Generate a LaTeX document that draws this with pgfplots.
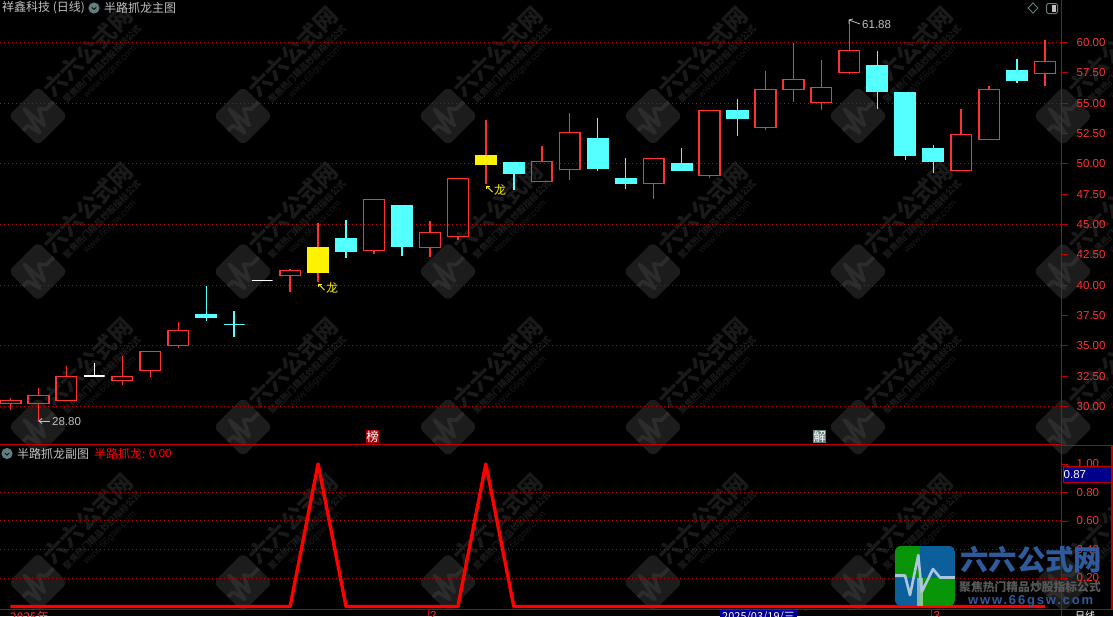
\documentclass[border=0pt]{standalone}
\usepackage{fontspec}
\usepackage{pgfplots}
\pgfplotsset{compat=1.18}
\setmainfont{Liberation Sans}
\newfontfamily\cjk{Noto Sans CJK SC}
\newfontfamily\wwwfont[LetterSpace=14]{Liberation Sans}

\definecolor{kred}{HTML}{FF3232}
\definecolor{kcyan}{HTML}{54FFFF}
\definecolor{gridred}{HTML}{C00000}
\definecolor{frame}{HTML}{C00000}
\definecolor{uigray}{HTML}{C0C0C0}
\definecolor{icon}{HTML}{5F7F7F}
\definecolor{wmtext}{HTML}{1A1A1A}
\definecolor{wmbox}{HTML}{1C1C1C}
\definecolor{wmline}{HTML}{2C2C2C}
\definecolor{logoblue}{HTML}{0B5F9B}
\definecolor{logogreen}{HTML}{089508}
\definecolor{logotext}{HTML}{2F5A9C}

% style, position, low, body bottom, body top, high
\newcommand{\candle}[6]{%
  \pgfmathsetmacro\xl{#2-0.37}%
  \pgfmathsetmacro\xr{#2+0.37}%
  \addplot[#1, fill=none] coordinates {(#2,#3) (#2,#4)};
  \addplot[#1, fill=none] coordinates {(#2,#5) (#2,#6)};
  \addplot[#1] coordinates {(\xl,#4) (\xr,#4) (\xr,#5) (\xl,#5)} -- cycle;
}
\tikzset{
  up/.style={draw=kred, line width=1.45pt, fill=none},
  down/.style={draw=kcyan, line width=1.45pt, fill=kcyan},
  flat/.style={draw=white, line width=1.45pt, fill=none},
  dragon/.style={draw=yellow, line width=1.45pt, fill=yellow},
}
\pgfplotsset{
  panel/.style={
    scale only axis, width=1061.5pt,
    xmin=-0.3755, xmax=37.588,
    axis x line=none, axis y line=right,
    axis line style={-, draw=frame, line width=1pt},
    tick align=outside, major tick length=6pt,
    ytick style={draw=frame, line width=0.8pt},
    yticklabel style={font=\fontsize{11.5}{12}\selectfont, text=kred, inner sep=0pt, anchor=west, xshift=9pt},
    /pgf/number format/assume math mode=true,
    /pgf/number format/fixed, /pgf/number format/fixed zerofill, /pgf/number format/precision=2,
    extra tick style={grid=major, major grid style={draw=gridred, line width=1pt, dash pattern=on 1pt off 3pt}},
    extra y tick labels={},
  },
}

\begin{document}
\begin{tikzpicture}
\path[use as bounding box] (0pt,0pt) rectangle (1113pt,-616pt);
\begin{scope}[x=1pt,y=-1pt]
  \fill[black] (0,0) rectangle (1113,616);
  % watermark
  \begin{scope}
  \clip (0,0) rectangle (1113,616);
  \foreach \wx in {38,243,448,653,858,1063}
    \foreach \wy in {116,271.5,427,582.5} {
      \begin{scope}[shift={(\wx,\wy)}]
        \begin{scope}[rotate=45, scale=0.7]
          \fill[wmbox, rounded corners=6] (-30,-30) rectangle (30,30);
          \draw[wmline, line width=3.6pt, line join=round]
            (-30,-0.5) -- (-20,-0.5) -- (-15,19) -- (-6.7,-21) -- (-3.3,16) -- (8,-7) -- (15,1.5) -- (30,1.5);
        \end{scope}
        \node[wmtext, rotate=45, font=\cjk\bfseries\fontsize{23}{23}\selectfont] at (50,-64) {六六公式网};
        \node[wmtext, rotate=45, font=\cjk\bfseries\fontsize{8.8}{9}\selectfont] at (64,-52) {聚焦热门精品炒股指标公式};
        \node[wmtext, rotate=45, font=\fontsize{9.5}{10}\selectfont] at (72,-44) {www.66gsw.com};
      \end{scope}
    }
  \end{scope}
\end{scope}

% main panel
\begin{axis}[panel, at={(0pt,-444.5pt)}, height=444.5pt,
  ymin=26.868, ymax=63.503,
  ytick={30,32.5,...,60},
  extra y ticks={30,35,40,45,50,55,60},
]
\candle{up}{0}{29.74}{30.26}{30.51}{30.70}
\candle{up}{1}{28.80}{30.23}{30.92}{31.50}
\candle{up}{2}{30.51}{30.51}{32.49}{33.34}
\candle{flat}{3}{32.51}{32.51}{32.51}{33.56}
\candle{up}{4}{31.77}{32.16}{32.49}{34.16}
\candle{up}{5}{32.46}{32.98}{34.55}{34.55}
\candle{up}{6}{34.85}{35.01}{36.28}{36.96}
\candle{down}{7}{37.07}{37.32}{37.54}{39.93}
\candle{down}{8}{35.75}{36.77}{36.77}{37.87}
\candle{flat}{9}{40.40}{40.40}{40.40}{40.40}
\candle{up}{10}{39.46}{40.81}{41.22}{41.33}
\candle{up}{11}{40.29}{41.08}{43.06}{45.10}
\candle{dragon}{11}{41.08}{41.08}{43.06}{43.06}
\candle{down}{12}{42.26}{42.82}{43.80}{45.37}
\candle{up}{13}{42.59}{42.84}{47.08}{47.08}
\candle{down}{14}{42.43}{43.17}{46.52}{46.52}
\candle{up}{15}{42.35}{43.09}{44.36}{45.29}
\candle{up}{16}{43.75}{43.99}{48.81}{48.81}
\candle{up}{17}{48.34}{49.99}{50.65}{53.61}
\candle{dragon}{17}{49.99}{49.99}{50.65}{50.65}
\candle{down}{18}{47.84}{49.24}{50.07}{50.07}
\candle{up}{19}{48.53}{48.53}{50.21}{51.47}
\candle{up}{20}{48.67}{49.52}{52.60}{54.19}
\candle{down}{21}{49.41}{49.66}{52.05}{53.78}
\candle{down}{22}{47.93}{48.42}{48.75}{50.48}
\candle{up}{23}{47.10}{48.36}{50.46}{50.46}
\candle{down}{24}{49.41}{49.49}{49.99}{51.30}
\candle{up}{25}{48.83}{49.02}{54.41}{54.41}
\candle{down}{26}{52.29}{53.78}{54.35}{55.34}
\candle{up}{27}{52.79}{53.01}{56.14}{57.65}
\candle{up}{28}{55.10}{56.14}{56.97}{59.98}
\candle{up}{29}{54.44}{55.07}{56.31}{58.56}
\candle{up}{30}{57.43}{57.51}{59.36}{61.88}
\candle{down}{31}{54.52}{55.94}{58.06}{59.30}
\candle{down}{32}{50.32}{50.73}{55.84}{55.84}
\candle{down}{33}{49.24}{50.23}{51.22}{51.55}
\candle{up}{34}{49.43}{49.43}{52.43}{54.52}
\candle{up}{35}{52.02}{52.02}{56.14}{56.41}
\candle{down}{36}{56.66}{56.91}{57.65}{58.64}
\candle{up}{37}{56.41}{57.46}{58.45}{60.21}
\end{axis}

% sub panel
\begin{axis}[panel, at={(0pt,-609pt)}, height=164pt,
  ymin=-0.0175, ymax=1.133,
  ytick={0.2,0.4,0.6,0.8,1.0},
  extra y ticks={0.2,0.4,0.6,0.8},
]
\addplot[red, line width=3.4pt, line join=round] coordinates {
  (0,0) (10,0) (11,1) (12,0) (16,0) (17,1) (18,0) (37,0)
};
\end{axis}

\begin{scope}[x=1pt,y=-1pt]
  % frame
  \draw[frame, line width=1pt] (0,444.4) -- (1061.5,444.4);
  \draw[frame, line width=1pt] (0,609) -- (1113,609);
  \draw[frame, line width=1pt] (1061.5,0) -- (1061.5,616);
  \draw[frame, line width=1.2pt] (1061.5,445.6) -- (1112,445.6) -- (1112,609);
  \fill[blue!55!black, draw=frame, line width=0.8pt] (1063,466.6) rectangle (1111.5,482.2);
  \node[white, anchor=west, inner sep=0pt, font=\fontsize{11.5}{12}\selectfont] at (1063.5,474.5) {0.87};

  % titles
  \node[uigray, anchor=west, inner sep=0pt, font=\cjk\fontsize{12}{12}\selectfont] at (2,8) {祥鑫科技 (日线)};
  \fill[icon] (94,8) circle (5.6);
  \draw[black, line width=0.8pt] (91.8,7.4) -- (94,9.4) -- (96.2,7.4);
  \node[uigray, anchor=west, inner sep=0pt, font=\cjk\fontsize{12}{12}\selectfont] at (104,8) {半路抓龙主图};
  \fill[icon] (7,453.5) circle (5.6);
  \draw[black, line width=0.8pt] (4.8,453) -- (7,455) -- (9.2,453);
  \node[uigray, anchor=west, inner sep=0pt, font=\cjk\fontsize{12}{12}\selectfont] at (17,453.5) {半路抓龙副图};
  \node[red, anchor=west, inner sep=0pt, font=\cjk\fontsize{12}{12}\selectfont] at (94,453.5) {半路抓龙:};
  \node[red, anchor=west, inner sep=0pt, font=\fontsize{11.5}{12}\selectfont] at (149,453.5) {0.00};

  % top right icons
  \draw[icon, line width=0.8pt] (1033,3) -- (1038,8) -- (1033,13) -- (1028,8) -- cycle;
  \draw[icon, line width=1pt, rounded corners=1.5] (1046.5,3.5) rectangle (1057.5,13.5);
  \fill[uigray] (1052,5) rectangle (1056,12);

  % annotations
  \draw[uigray, line width=0.8pt] (39,421) -- (50,421);
  \draw[uigray, line width=0.8pt] (42,418.5) -- (39,421) -- (42,423.5);
  \node[uigray, anchor=west, inner sep=0pt, font=\fontsize{11.5}{12}\selectfont] at (52,421.5) {28.80};
  \draw[uigray, line width=0.8pt] (849,20) -- (860,24);
  \draw[uigray, line width=0.8pt] (849,24) -- (849,20) -- (853,19);
  \node[uigray, anchor=west, inner sep=0pt, font=\fontsize{11.5}{12}\selectfont] at (862,24.5) {61.88};
  \draw[yellow, line width=0.9pt] (318.5,284) -- (324.5,290);
  \draw[yellow, line width=0.9pt] (318.5,287) -- (318.5,284) -- (321.5,284);
  \node[yellow, anchor=west, inner sep=0pt, font=\cjk\fontsize{12}{12}\selectfont] at (326,287.5) {龙};
  \draw[yellow, line width=0.9pt] (486.5,186) -- (492.5,192);
  \draw[yellow, line width=0.9pt] (486.5,189) -- (486.5,186) -- (489.5,186);
  \node[yellow, anchor=west, inner sep=0pt, font=\cjk\fontsize{12}{12}\selectfont] at (494,189.5) {龙};

  % badges
  \fill[red!70!black] (366,430) rectangle (379,443);
  \node[white, inner sep=0pt, font=\cjk\fontsize{12.5}{12.5}\selectfont] at (372.5,436.5) {榜};
  \fill[icon] (813,430) rectangle (826,443);
  \node[white, inner sep=0pt, font=\cjk\fontsize{12.5}{12.5}\selectfont] at (819.5,436.5) {解};

  % date strip, cut by the lower edge
  \node[kred, anchor=north west, inner sep=0pt, font=\cjk\fontsize{12}{12}\selectfont] at (10,611) {2025年};
  \draw[frame, line width=0.8pt] (428,609) -- (428,616);
  \node[kred, anchor=north west, inner sep=0pt, font=\fontsize{11.5}{12}\selectfont] at (430,611.5) {2};
  \fill[blue!55!black, draw=blue!70!black, line width=0.8pt] (720,610.5) rectangle (796.5,620);
  \node[white, anchor=north west, inner sep=0pt, font=\cjk\fontsize{11}{11}\selectfont] at (722,611.5) {2025/03/19/三};
  \draw[frame, line width=0.8pt] (805.5,609) -- (805.5,611);
  \draw[frame, line width=0.8pt] (931.7,609) -- (931.7,616);
  \node[kred, anchor=north west, inner sep=0pt, font=\fontsize{11.5}{12}\selectfont] at (933.5,611.5) {3};
  \node[white, anchor=north west, inner sep=0pt, font=\cjk\fontsize{10}{10}\selectfont] at (1075,611) {日线};

  % logo overlay
  \begin{scope}
    \clip[rounded corners=6] (895,546) rectangle (955,606);
    \fill[logogreen] (895,546) rectangle (920,578);
    \fill[logoblue] (920,546) rectangle (955,578);
    \fill[logoblue] (895,578) rectangle (920,606);
    \fill[logogreen] (920,578) rectangle (955,606);
    \fill[white, opacity=0.5] (917,578) rectangle (923,606);
    \draw[white!65!logoblue, line width=2.6pt, line join=round]
      (895,575.5) -- (905,575.5) -- (910,595) -- (918.3,555) -- (921.7,592) -- (933,569) -- (940,577.5) -- (955,577.5);
  \end{scope}
  \node[logotext, anchor=west, inner sep=0pt, font=\cjk\bfseries\fontsize{28.4}{29}\selectfont] at (960,560) {六六公式网};
  \node[black!65, anchor=west, inner sep=0pt, font=\cjk\bfseries\fontsize{11.8}{12}\selectfont] at (959,587) {聚焦热门精品炒股指标公式};
  \node[logotext, anchor=west, inner sep=0pt, font=\wwwfont\bfseries\fontsize{13}{13}\selectfont] at (968,601.5) {www.66gsw.com};
\end{scope}
\end{tikzpicture}
\end{document}
